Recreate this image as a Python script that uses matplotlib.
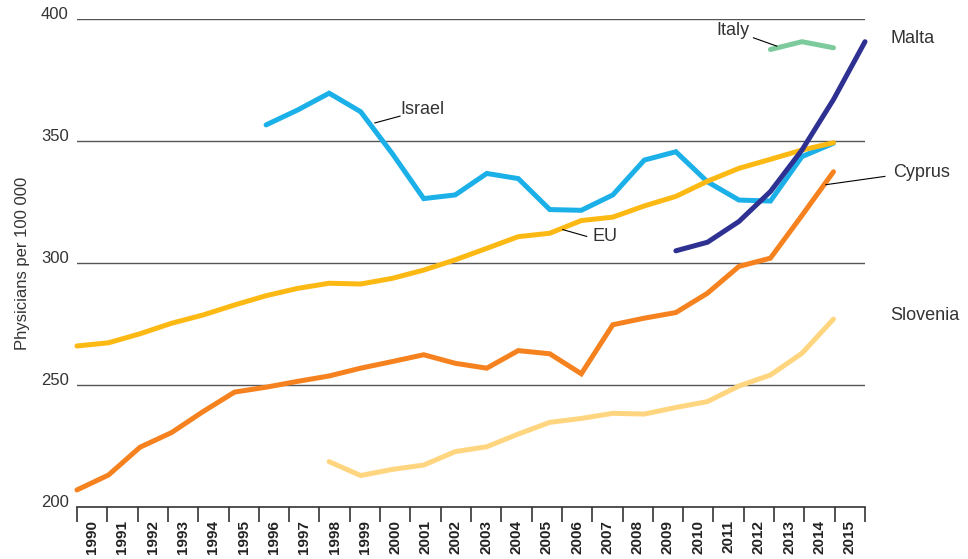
import numpy as np
import matplotlib
matplotlib.use("Agg")
from matplotlib import pyplot as plt

plt.rcParams["font.family"] = ["Liberation Sans", "DejaVu Sans"]

years = list(range(1990, 2016))

# 数据，从图上读出来的
eu = [266, 267.3, 271, 275.3, 278.7, 282.8, 286.6, 289.6, 291.7, 291.4, 293.7, 297.1,
      301.3, 306, 310.8, 312.2, 317.4, 318.8, 323.4, 327.3, 333.5, 338.8, 342.5, 346.3, 349.3]
israel_years = list(range(1996, 2015))
israel = [356.6, 362.7, 369.6, 362.0, 344.9, 326.4, 327.9, 336.7, 334.6, 321.9, 321.6,
          327.9, 342.2, 345.6, 333.3, 325.8, 325.4, 343.6, 349.1]
malta_years = list(range(2009, 2016))
malta = [305, 308.5, 317, 329.3, 346.3, 367, 390.7]
italy_years = [2012, 2013, 2014]
italy = [387.5, 390.7, 388.2]
cyprus = [207, 213.1, 224.5, 230.5, 239.1, 247.1, 249.1, 251.5, 253.7, 256.9, 259.6, 262.4,
          258.9, 256.9, 264.1, 262.8, 254.6, 274.7, 277.4, 279.7, 287.6, 298.6, 302, 319.5, 337.4]
slovenia_years = list(range(1998, 2015))
slovenia = [218.6, 212.9, 215.4, 217.2, 222.7, 224.7, 229.9, 234.7, 236.3, 238.4, 238.1,
            240.8, 243.2, 249.6, 254.1, 263, 277]

yticks = [200, 250, 300, 350, 400]

colors = {
    "EU": "#FDB913",
    "Israel": "#1CB0E8",
    "Malta": "#2E3192",
    "Italy": "#7DCB9C",
    "Cyprus": "#F5821F",
    "Slovenia": "#FFD67F",
}


def xpos(ys):
    return [y - 1990 for y in ys]


fig, ax = plt.subplots(figsize=(9.68, 5.59), dpi=100)
fig.subplots_adjust(left=0.0795, right=0.8936, bottom=0.093, top=0.966)

lw = 3.6
kw = dict(linewidth=lw, solid_capstyle="round", solid_joinstyle="miter", clip_on=False)
ax.plot(xpos(slovenia_years), slovenia, color=colors["Slovenia"], zorder=3, **kw)
ax.plot(xpos(years[:25]), cyprus, color=colors["Cyprus"], zorder=3, **kw)
ax.plot(xpos(israel_years), israel, color=colors["Israel"], zorder=3, **kw)
ax.plot(xpos(years[:25]), eu, color=colors["EU"], zorder=4, **kw)
ax.plot(xpos(malta_years), malta, color=colors["Malta"], zorder=5, **kw)
ax.plot(xpos(italy_years), italy, color=colors["Italy"], zorder=5, **kw)

ax.set_xlim(0, 25)
ax.set_ylim(200, 400)

# 网格线
for v in yticks[1:]:
    ax.axhline(v, color="#555555", linewidth=1.0, zorder=1)

for s in ["top", "right", "left"]:
    ax.spines[s].set_visible(False)
ax.spines["bottom"].set_color("#333333")
ax.spines["bottom"].set_linewidth(1.2)

ax.set_yticks(yticks)
ax.set_yticklabels([str(v) for v in yticks], fontsize=12, color="#333333")
for t in ax.get_yticklabels():
    t.set_verticalalignment("baseline")
ax.tick_params(axis="y", length=0, pad=6)

n = len(years)
edges = np.linspace(0, 25, n + 1)
centers = (edges[:-1] + edges[1:]) / 2
ax.set_xticks(edges)
ax.set_xticklabels([])
ax.set_xticks(centers, minor=True)
ax.set_xticklabels([str(y) for y in years], minor=True, rotation=90,
                   fontsize=11, fontweight="bold", color="#222222")
ax.tick_params(axis="x", which="major", length=11, width=1.2, color="#333333", direction="out")
ax.tick_params(axis="x", which="minor", length=0, pad=9.5)

ax.set_ylabel("Physicians per 100 000", fontsize=12, color="#333333", labelpad=8)

# 标签和引线
tc = "#333333"
fs = 13
ax.text(10.27, 362.9, "Israel", fontsize=fs, color=tc, va="center", ha="left")
ax.plot([9.45, 10.25], [357.4, 360.2], color="black", linewidth=0.8, zorder=6)
ax.text(16.37, 310.9, "EU", fontsize=fs, color=tc, va="center", ha="left")
ax.plot([15.41, 16.17], [313.7, 310.9], color="black", linewidth=0.8, zorder=6)
ax.text(21.35, 395.4, "Italy", fontsize=fs, color=tc, va="center", ha="right")
ax.plot([21.46, 22.2], [392.3, 388.9], color="black", linewidth=0.8, zorder=6)
ax.text(25.8, 391.9, "Malta", fontsize=fs, color=tc, va="center", ha="left")
ax.text(25.88, 336.9, "Cyprus", fontsize=fs, color=tc, va="center", ha="left")
ax.plot([23.76, 25.63], [332.1, 335.5], color="black", linewidth=0.8, zorder=6, clip_on=False)
ax.text(25.8, 278.6, "Slovenia", fontsize=fs, color=tc, va="center", ha="left")

plt.savefig("out.png", dpi=100)
plt.close()
